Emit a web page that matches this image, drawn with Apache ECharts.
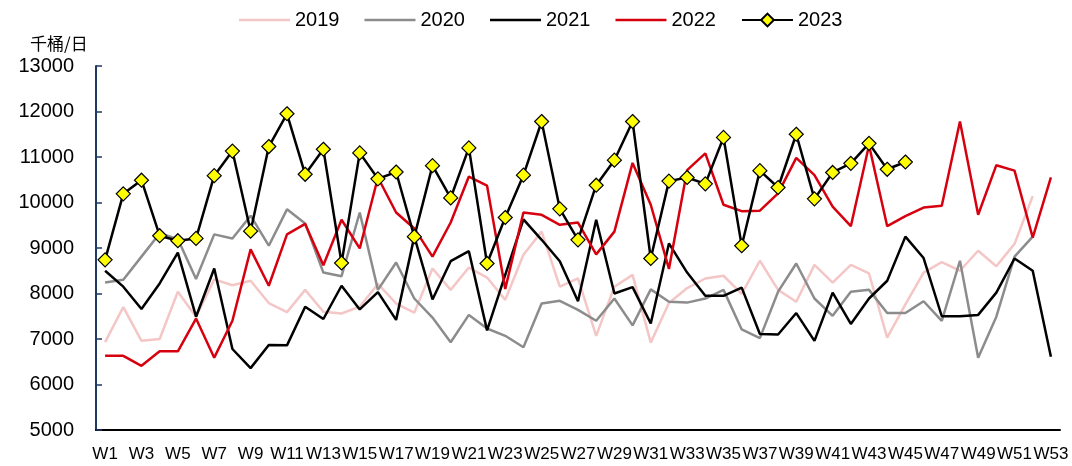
<!DOCTYPE html>
<html>
    <head>
        <meta charset="utf-8">
        <script src="https://cdn.jsdelivr.net/npm/echarts@6/dist/echarts.min.js"></script>
    </head>
    <body>
        <style>
            html, body, #main {
                width: 100%;
                height: 100%;
                margin: 0;
                background: #fff;
            }
        </style>
        <div id="main"></div>
        <script>

            var weeks = [];
            for (var w = 1; w <= 53; w++) {
                weeks.push('W' + w);
            }

            var years = ['2019', '2020', '2021', '2022', '2023'];

            var data2019 = [6930, 7700, 6960, 7000, 8040, 7490, 8310, 8180, 8280, 7790,
                7590, 8080, 7600, 7560, 7710, 8210, 7780, 7580, 8550, 8080,
                8570, 8350, 7860, 8850, 9360, 8150, 8330, 7070, 8150, 8410,
                6920, 7790, 8120, 8330, 8390, 7990, 8720, 8080, 7820, 8630,
                8240, 8630, 8440, 7030, 7760, 8460, 8690, 8500, 8940, 8600,
                9090, 10140];

            var data2020 = [8240, 8300, 8810, 9320, 9200, 8320, 9300, 9210, 9710, 9050,
                9850, 9540, 8460, 8380, 9780, 8080, 8680, 7890, 7470, 6930,
                7530, 7230, 7070, 6820, 7780, 7840, 7640, 7400, 7890, 7300,
                8090, 7820, 7800, 7890, 8080, 7210, 7020, 8040, 8660, 7890,
                7510, 8040, 8080, 7570, 7570, 7830, 7400, 8720, 6590, 7490,
                8810, 9250];

            var data2021 = [8500, 8150, 7660, 8220, 8900, 7490, 8550, 6780, 6360, 6870,
                6860, 7710, 7440, 8170, 7650, 8030, 7420, 9250, 7870, 8710,
                8930, 7190, 8410, 9630, 9180, 8710, 7830, 9620, 8000, 8140,
                7340, 9100, 8460, 7950, 7950, 8130, 7110, 7100, 7570, 6960,
                8020, 7330, 7890, 8280, 9250, 8780, 7500, 7500, 7530, 8020,
                8770, 8500, 6610];

            var data2022 = [6630, 6630, 6410, 6730, 6730, 7450, 6590, 7400, 8970, 8170,
                9300, 9530, 8620, 9620, 8990, 10550, 9780, 9430, 8810, 9560,
                10570, 10370, 8100, 9780, 9730, 9510, 9560, 8860, 9360, 10870,
                9950, 8540, 10710, 11080, 9950, 9810, 9820, 10200, 10980, 10600,
                9910, 9480, 11260, 9480, 9700, 9890, 9930, 11780, 9730, 10820,
                10700, 9230, 10550];

            var data2023 = [8740, 10190, 10490, 9270, 9160, 9210, 10590, 11130, 9370, 11230,
                11950, 10620, 11170, 8670, 11090, 10520, 10670, 9250, 10810, 10100,
                11200, 8660, 9670, 10600, 11780, 9860, 9180, 10380, 10930, 11780,
                8770, 10470, 10550, 10410, 11430, 9050, 10700, 10330, 11500, 10080,
                10660, 10860, 11300, 10730, 10890];

            // flat bar used as legend icon for the plain lines
            var lineIcon = 'path://M0,0 L51,0 L51,2.5 L0,2.5 Z';

            var chart = echarts.init(document.getElementById('main'));

            function plainLine(name, data, color, z) {
                return {
                    name: name,
                    type: 'line',
                    data: data,
                    symbol: 'none',
                    z: z,
                    lineStyle: {
                        color: color,
                        width: 2.5
                    },
                    itemStyle: {
                        color: color
                    }
                };
            }

            chart.setOption({
                animation: false,
                textStyle: {
                    fontFamily: 'Liberation Sans'
                },
                legend: {
                    left: 234,
                    top: 5,
                    itemWidth: 51,
                    itemHeight: 16,
                    itemGap: 25,
                    data: [
                        { name: years[0], icon: lineIcon },
                        { name: years[1], icon: lineIcon },
                        { name: years[2], icon: lineIcon },
                        { name: years[3], icon: lineIcon },
                        { name: years[4] }
                    ],
                    textStyle: {
                        fontSize: 20,
                        color: '#000'
                    }
                },
                graphic: [{
                    type: 'text',
                    left: 30,
                    top: 35,
                    style: {
                        text: '千桶/日',
                        fontSize: 17,
                        fontFamily: 'Noto Sans CJK SC',
                        fill: '#000'
                    }
                }],
                grid: {
                    left: 96,
                    right: 12,
                    top: 66,
                    bottom: 36
                },
                xAxis: {
                    type: 'category',
                    data: weeks,
                    boundaryGap: true,
                    axisLine: {
                        lineStyle: { color: '#000', width: 2 }
                    },
                    axisTick: {
                        inside: true,
                        length: 6,
                        lineStyle: { color: '#000', width: 1.5 }
                    },
                    axisLabel: {
                        interval: 1,
                        margin: 16,
                        fontSize: 17,
                        color: '#000'
                    },
                    splitLine: { show: false }
                },
                yAxis: {
                    type: 'value',
                    min: 5000,
                    max: 13000,
                    interval: 1000,
                    axisLine: {
                        show: true,
                        lineStyle: { color: '#1f3864', width: 2 }
                    },
                    axisTick: {
                        show: true,
                        inside: true,
                        length: 6,
                        lineStyle: { color: '#1f3864', width: 1.5 }
                    },
                    axisLabel: {
                        margin: 22,
                        fontSize: 20,
                        color: '#000',
                        formatter: function (v) {
                            return String(v);
                        }
                    },
                    splitLine: { show: false }
                },
                series: [
                    plainLine('2019', data2019, '#f4c6c6', 1),
                    plainLine('2020', data2020, '#8c8c8c', 2),
                    plainLine('2021', data2021, '#000000', 3),
                    plainLine('2022', data2022, '#d7000f', 4),
                    {
                        name: '2023',
                        type: 'line',
                        data: data2023,
                        z: 5,
                        symbol: 'diamond',
                        symbolSize: 14,
                        showAllSymbol: true,
                        lineStyle: {
                            color: '#000',
                            width: 2.5
                        },
                        itemStyle: {
                            color: '#ffff00',
                            borderColor: '#000',
                            borderWidth: 1.2
                        }
                    }
                ]
            });

        </script>
    </body>
</html>
